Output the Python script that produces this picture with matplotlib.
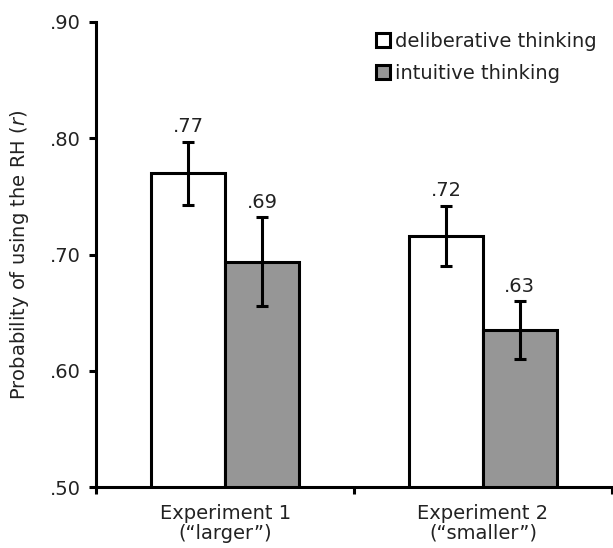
import matplotlib
matplotlib.use("Agg")
import matplotlib.pyplot as plt
from matplotlib.lines import Line2D
from matplotlib.ticker import FuncFormatter, FixedLocator

plt.rcParams['font.family'] = ['DejaVu Sans']
plt.rcParams['font.size'] = 14

experiments = ['Experiment 1\n(\u201clarger\u201d)', 'Experiment 2\n(\u201csmaller\u201d)']
series_names = ['deliberative thinking', 'intuitive thinking']
deliberative = [0.770, 0.716]
intuitive = [0.694, 0.635]
deliberative_err = [0.027, 0.026]
intuitive_err = [0.038, 0.025]
value_labels = [['.77', '.72'], ['.69', '.63']]

text_col = '#222222'
bar_w = 0.286

fig = plt.figure(figsize=(6.13, 5.48), dpi=100)
ax = fig.add_axes([0.157, 0.111, 0.841, 0.849])

xs = list(range(len(experiments)))
groups = [(deliberative, deliberative_err, 'white'), (intuitive, intuitive_err, '#969696')]
for i, (vals, errs, col) in enumerate(groups):
    pos = [x + (i - 0.5) * bar_w for x in xs]
    ax.bar(pos, vals, width=bar_w, color=col, edgecolor='black', linewidth=2.2,
           zorder=2)
    ax.errorbar(pos, vals, yerr=errs, fmt='none', ecolor='black', elinewidth=2.2,
                capsize=4.3, capthick=2.2, zorder=3)
    for p, v, e, lab in zip(pos, vals, errs, value_labels[i]):
        ax.annotate(lab, (p, v + e), xytext=(0, 4), textcoords='offset points',
                    ha='center', va='bottom', color=text_col)

ax.set_ylim(0.50, 0.90)
ax.set_xlim(-0.5, 1.5)
ax.set_yticks([0.5, 0.6, 0.7, 0.8, 0.9])
ax.yaxis.set_major_formatter(FuncFormatter(lambda v, _: f"{v:.2f}"[1:]))
ax.set_ylabel('Probability of using the RH ($\\it{r}$)', color=text_col, labelpad=14)

# category boundaries get tick marks, labels sit at category centres
ax.xaxis.set_major_locator(FixedLocator([-0.5, 0.5, 1.5]))
ax.xaxis.set_minor_locator(FixedLocator(xs))
ax.set_xticklabels([], minor=False)
ax.set_xticklabels(experiments, minor=True, linespacing=1.05)
ax.tick_params(axis='x', which='minor', length=0, pad=12, colors=text_col)
ax.tick_params(axis='x', which='major', length=5, width=2.2, direction='out')
ax.tick_params(axis='y', length=5, width=2.2, direction='out', labelcolor=text_col, pad=6)

for side in ['top', 'right']:
    ax.spines[side].set_visible(False)
for side in ['left', 'bottom']:
    ax.spines[side].set_linewidth(2.2)

handles = [Line2D([], [], linestyle='none', marker='s', markersize=10,
                  markerfacecolor=c, markeredgecolor='black', markeredgewidth=2.2)
           for c in ['white', '#969696']]
leg = ax.legend(handles, series_names, loc='upper left', bbox_to_anchor=(0.53, 0.995),
                frameon=False, handlelength=0.6, handletextpad=0.3,
                labelspacing=0.65, borderaxespad=0)
for t in leg.get_texts():
    t.set_color(text_col)

fig.savefig('out.png', dpi=100)
